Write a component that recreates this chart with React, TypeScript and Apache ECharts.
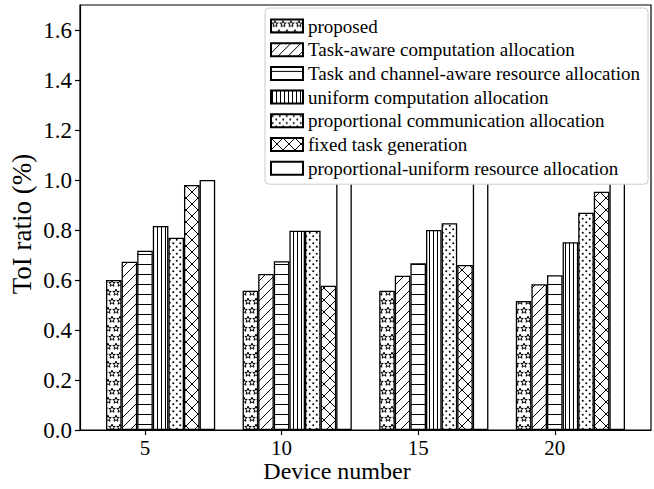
import React, { useEffect, useRef } from 'react';
import * as echarts from 'echarts';

// Device counts on the x axis and the y tick values
const deviceNumbers = [5, 10, 15, 20];
const yTicks = [0, 0.2, 0.4, 0.6, 0.8, 1.0, 1.2, 1.4, 1.6];

// ToI ratio per scheme, one value per device count
const proposed = [0.6, 0.557, 0.557, 0.516];
const taskAwareComp = [0.673, 0.624, 0.617, 0.583];
const taskChannelAware = [0.717, 0.675, 0.667, 0.619];
const uniformComp = [0.816, 0.797, 0.8, 0.751];
const proportionalComm = [0.769, 0.797, 0.827, 0.869];
const fixedTask = [0.98, 0.577, 0.66, 0.953];
const proportionalUniform = [1.0, 1.0, 1.0, 1.0];

const seriesNames = [
  'proposed',
  'Task-aware computation allocation',
  'Task and channel-aware resource allocation',
  'uniform computation allocation',
  'proportional communication allocation',
  'fixed task generation',
  'proportional-uniform resource allocation',
];
const seriesValues = [
  proposed,
  taskAwareComp,
  taskChannelAware,
  uniformComp,
  proportionalComm,
  fixedTask,
  proportionalUniform,
];

const xTitle = 'Device number';
const yTitle = 'ToI ratio (%)';

type Hatch = 'stars' | 'diag' | 'horiz' | 'vert' | 'dots' | 'cross' | 'none';
const hatches: Hatch[] = ['stars', 'diag', 'horiz', 'vert', 'dots', 'cross', 'none'];

const FONT = '"Liberation Serif", "Times New Roman", serif';

function drawStar(ctx: CanvasRenderingContext2D, cx: number, cy: number, R: number, r: number) {
  ctx.beginPath();
  for (let k = 0; k < 10; k++) {
    const rad = k % 2 === 0 ? R : r;
    const a = -Math.PI / 2 + (k * Math.PI) / 5;
    const px = cx + rad * Math.cos(a);
    const py = cy + rad * Math.sin(a);
    if (k === 0) ctx.moveTo(px, py);
    else ctx.lineTo(px, py);
  }
  ctx.closePath();
  ctx.fillStyle = '#fff';
  ctx.fill();
  ctx.stroke();
}

// Builds a repeating hatch tile for a bar fill
function makePattern(kind: Hatch) {
  const size: Record<Hatch, [number, number]> = {
    stars: [8, 18],
    diag: [10, 10],
    horiz: [10, 10],
    vert: [4, 4],
    dots: [7, 7],
    cross: [12, 12],
    none: [4, 4],
  };
  const [w, h] = size[kind];
  const c = document.createElement('canvas');
  c.width = w;
  c.height = h;
  const ctx = c.getContext('2d')!;
  ctx.fillStyle = '#fff';
  ctx.fillRect(0, 0, w, h);
  ctx.strokeStyle = '#000';
  ctx.fillStyle = '#000';
  ctx.lineWidth = 1;
  if (kind === 'stars') {
    ctx.lineWidth = 1;
    drawStar(ctx, 4, 4.5, 3.4, 1.4);
    drawStar(ctx, 0, 13.5, 3.4, 1.4);
    drawStar(ctx, 8, 13.5, 3.4, 1.4);
  } else if (kind === 'diag') {
    ctx.beginPath();
    ctx.moveTo(-1, h + 1);
    ctx.lineTo(w + 1, -1);
    ctx.moveTo(-1, 1);
    ctx.lineTo(1, -1);
    ctx.moveTo(w - 1, h + 1);
    ctx.lineTo(w + 1, h - 1);
    ctx.stroke();
  } else if (kind === 'horiz') {
    ctx.beginPath();
    ctx.moveTo(0, 4.5);
    ctx.lineTo(w, 4.5);
    ctx.stroke();
  } else if (kind === 'vert') {
    ctx.beginPath();
    ctx.moveTo(1.5, 0);
    ctx.lineTo(1.5, h);
    ctx.stroke();
  } else if (kind === 'dots') {
    for (const [x, y] of [[1.75, 1.75], [5.25, 5.25]]) {
      ctx.beginPath();
      ctx.arc(x, y, 1, 0, Math.PI * 2);
      ctx.fill();
    }
  } else if (kind === 'cross') {
    ctx.beginPath();
    ctx.moveTo(-1, h + 1);
    ctx.lineTo(w + 1, -1);
    ctx.moveTo(-1, -1);
    ctx.lineTo(w + 1, h + 1);
    ctx.stroke();
  }
  return { image: c, repeat: 'repeat', imageWidth: w, imageHeight: h };
}

export default function App() {
  const ref = useRef<HTMLDivElement>(null);

  useEffect(() => {
    if (!ref.current) return;
    const chart = echarts.init(ref.current, undefined, { renderer: 'svg' });

    const barWidth = 15.6;
    // two empty leading bars shift each group so that the tick sits under the third bar
    const spacers = [0, 1].map(() => ({
      type: 'bar',
      data: [],
      barWidth,
      barGap: '0%',
      silent: true,
    }));

    const bars = seriesNames.map((name, i) => ({
      type: 'bar',
      name,
      data: deviceNumbers.map((d, j) => [d, seriesValues[i][j]]),
      barWidth,
      barGap: '0%',
      silent: true,
      itemStyle: {
        color: makePattern(hatches[i]),
        borderColor: '#000',
        borderWidth: 1.3,
      },
    }));

    chart.setOption({
      animation: false,
      grid: {
        left: 80,
        right: 3,
        top: 5,
        bottom: 59,
        show: true,
        borderColor: '#000',
        borderWidth: 1.2,
        backgroundColor: 'transparent',
        outerBoundsMode: 'none',
      },
      legend: {
        data: seriesNames,
        orient: 'vertical',
        left: 265,
        top: 8,
        padding: [8, 8, 6, 5],
        itemWidth: 32,
        itemHeight: 13,
        itemGap: 3.7,
        itemTextGap: 3,
        icon: 'rect',
        backgroundColor: '#fff',
        borderColor: '#ccc',
        borderWidth: 1,
        borderRadius: 4,
        selectedMode: false,
        textStyle: { fontFamily: FONT, fontSize: 19, color: '#000', lineHeight: 20 },
      },
      graphic: [
        {
          type: 'text',
          x: 337,
          y: 471,
          silent: true,
          style: {
            text: xTitle,
            font: `24px ${FONT}`,
            fill: '#000',
            align: 'center',
            verticalAlign: 'middle',
          },
        },
        {
          type: 'text',
          x: 22,
          y: 224,
          rotation: Math.PI / 2,
          silent: true,
          style: {
            text: yTitle,
            font: `27px ${FONT}`,
            fill: '#000',
            align: 'center',
            verticalAlign: 'middle',
          },
        },
      ],
      xAxis: {
        type: 'value',
        min: 2.621,
        max: 23.521,
        splitLine: { show: false },
        axisLine: { show: true, onZero: false, lineStyle: { color: '#000', width: 1.2 } },
        axisTick: { show: true, customValues: deviceNumbers, length: 5, lineStyle: { color: '#000', width: 1.2 } },
        axisLabel: {
          customValues: deviceNumbers,
          fontFamily: FONT,
          fontSize: 21,
          color: '#000',
          margin: 7,
        },
      },
      yAxis: {
        type: 'value',
        min: 0,
        max: 1.7,
        splitLine: { show: false },
        axisLine: { show: true, lineStyle: { color: '#000', width: 1.2 } },
        axisTick: { show: true, customValues: yTicks, length: 5, lineStyle: { color: '#000', width: 1.2 } },
        axisLabel: {
          customValues: yTicks,
          formatter: (v: number) => v.toFixed(1),
          fontFamily: FONT,
          fontSize: 23,
          color: '#000',
          margin: 8,
        },
      },
      series: [...spacers, ...bars],
    });

    return () => chart.dispose();
  }, []);

  return (
    <div
      ref={ref}
      style={{ position: 'fixed', left: 0, top: 0, width: 654, height: 489, background: '#fff' }}
    />
  );
}
